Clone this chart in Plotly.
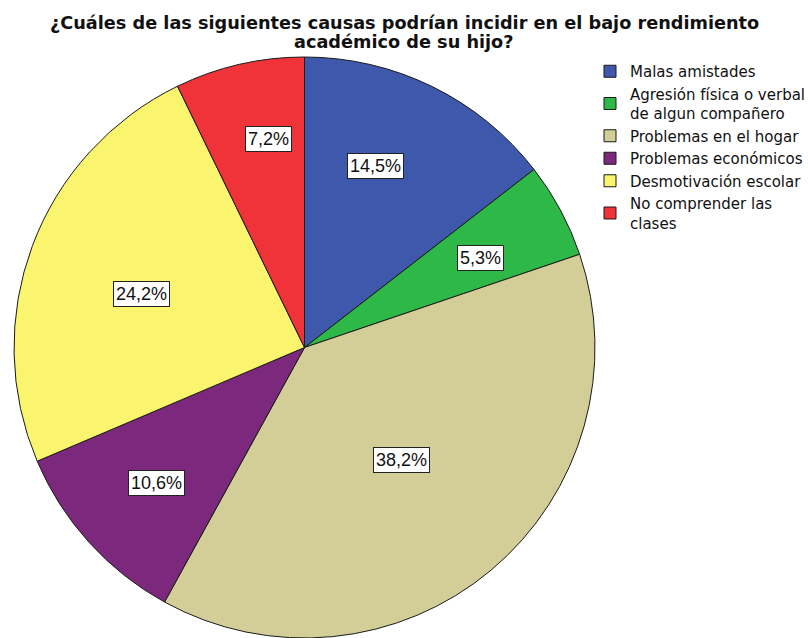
import math
import plotly.graph_objects as go

# ---- data ----
categories = [
    "Malas amistades",
    "Agresión física o verbal<br>de algun compañero",
    "Problemas en el hogar",
    "Problemas económicos",
    "Desmotivación escolar",
    "No comprender las<br>clases",
]
percentages = [14.5, 5.3, 38.2, 10.6, 24.2, 7.2]
colors = ["#3E58AC", "#2EB848", "#D3CE97", "#7C287D", "#FBF46F", "#EF3338"]

title_lines = [
    "¿Cuáles de las siguientes causas podrían incidir en el bajo rendimiento",
    "académico de su hijo?",
]

# ---- layout constants ----
W, H = 808, 638
CX, CY, R = 304.5, 347.5, 290.5
dom_x = [(CX - R) / W, (CX + R) / W]
dom_y = [max(0.0, 1 - (CY + R) / H), 1 - (CY - R) / H]
# label placement: radial fraction of the radius and angular nudge (degrees) from slice middle
label_radius_frac = [0.67, 0.68, 0.51, 0.69, 0.59, 0.73]
label_angle_nudge = [-4.8, 1.4, -0.8, -0.4, -2.3, 3.2]

fig = go.Figure()
fig.add_trace(go.Pie(
    labels=categories,
    values=percentages,
    sort=False,
    direction="clockwise",
    rotation=0,
    marker=dict(colors=colors, line=dict(color="#1a1a1a", width=1)),
    textinfo="none",
    hoverinfo="label+percent",
    domain=dict(x=dom_x, y=dom_y),
))

annotations = []
for line, ypx in zip(title_lines, [23.0, 42.5]):
    annotations.append(dict(
        x=0.5, y=1 - ypx / H, xref="paper", yref="paper",
        xanchor="center", yanchor="middle",
        text=f"<b>{line}</b>", showarrow=False,
        font=dict(family="DejaVu Sans, Liberation Sans, Arial, sans-serif", size=17.7, color="#111"),
    ))

total = sum(percentages)
cum = 0.0
for v, f, nudge in zip(percentages, label_radius_frac, label_angle_nudge):
    frac = v / total
    mid = (cum + frac / 2) * 2 * math.pi + math.radians(nudge)
    px = CX + f * R * math.sin(mid)
    py = CY - f * R * math.cos(mid)
    annotations.append(dict(
        x=px / W, y=1 - py / H, xref="paper", yref="paper",
        xanchor="center", yanchor="middle",
        text=f"{v:.1f}".replace(".", ",") + "%",
        showarrow=False,
        font=dict(family="Liberation Sans, Arial, sans-serif", size=18, color="#111"),
        bgcolor="white", bordercolor="#222", borderwidth=1, borderpad=2,
    ))
    cum += frac

fig.update_layout(
    width=W, height=H,
    margin=dict(l=0, r=0, t=0, b=0, autoexpand=False),
    paper_bgcolor="white",
    plot_bgcolor="white",
    legend=dict(
        x=590 / W, xanchor="left",
        y=1 - 55 / H, yanchor="top",
        font=dict(family="DejaVu Sans, Liberation Sans, Arial, sans-serif", size=15, color="#111"),
        bgcolor="rgba(0,0,0,0)",
        itemclick=False,
        tracegroupgap=0,
    ),
    annotations=annotations,
    showlegend=True,
)

fig.write_html(
    "out.html",
    config={"displayModeBar": False},
    post_script="document.body.style.margin='0px';document.body.style.overflow='hidden';",
)
